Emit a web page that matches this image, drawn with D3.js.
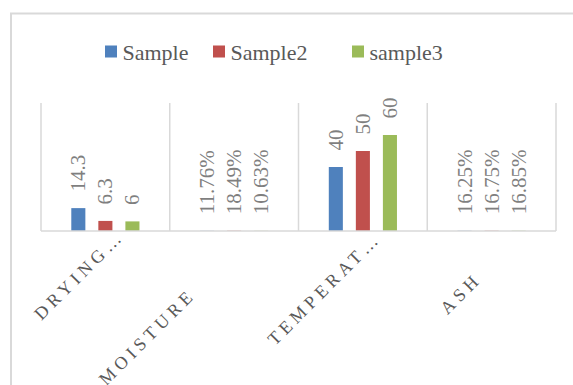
<!DOCTYPE html>
<html>
<head>
<meta charset="utf-8">
<script src="https://cdn.jsdelivr.net/npm/d3@7"></script>
<style>
  html, body { margin: 0; padding: 0; background: #fff; }
  svg { display: block; font-family: "Liberation Serif", "DejaVu Serif", serif; }
</style>
</head>
<body>
<svg id="chart" width="573" height="385"></svg>
<script>
// Categories and the three sample series (percent rows stored as fractions)
const categories = ["DRYING…", "MOISTURE", "TEMPERAT…", "ASH"];
const seriesNames = ["Sample", "Sample2", "sample3"];
const sample1 = [14.3, 0.1176, 40, 0.1625];
const sample2 = [6.3, 0.1849, 50, 0.1675];
const sample3 = [6, 0.1063, 60, 0.1685];
const valueKinds = ["number", "percent", "number", "percent"];
const yDomain = [0, 80];

const seriesValues = [sample1, sample2, sample3];
const colors = ["#4F81BD", "#C0504D", "#9BBB59"];

const svg = d3.select("#chart");
const plot = { left: 41, right: 556, top: 103, bottom: 231 };

// Chart frame
svg.append("rect")
  .attr("x", 11).attr("y", 13.5)
  .attr("width", 620).attr("height", 420)
  .attr("fill", "none")
  .attr("stroke", "#d9d9d9")
  .attr("stroke-width", 2);

const x0 = d3.scaleBand().domain(categories).range([plot.left, plot.right]).padding(0);
const x1 = d3.scaleBand().domain(seriesNames).range([0, x0.bandwidth()])
  .paddingInner(0.48).paddingOuter(1.12);
const y = d3.scaleLinear().domain(yDomain).range([plot.bottom, plot.top]);

// Vertical separators between categories
const edges = categories.map(c => x0(c)).concat([x0(categories[categories.length - 1]) + x0.bandwidth()]);
svg.append("g").selectAll("line").data(edges).join("line")
  .attr("x1", d => d).attr("x2", d => d)
  .attr("y1", y(yDomain[1])).attr("y2", y(0))
  .attr("stroke", "#d9d9d9").attr("stroke-width", 1.5);

// Bars
const rows = [];
categories.forEach((c, ci) => {
  seriesNames.forEach((s, si) => {
    rows.push({ cat: c, ci, series: s, si, value: seriesValues[si][ci] });
  });
});

svg.append("g").selectAll("rect").data(rows).join("rect")
  .attr("x", d => x0(d.cat) + x1(d.series))
  .attr("y", d => y(d.value))
  .attr("width", x1.bandwidth())
  .attr("height", d => y(0) - y(d.value))
  .attr("fill", d => colors[d.si]);

// Category axis line, drawn over the bar bases
const xAxis = svg.append("g")
  .attr("transform", `translate(0,${y(0)})`)
  .call(d3.axisBottom(x0).tickSize(0).tickFormat("").offset(0));
xAxis.select(".domain").attr("stroke", "#d9d9d9").attr("stroke-width", 1.6);

// Value labels, rotated
const fmtNum = d3.format("~g");
const fmtPct = d3.format(".2%");
svg.append("g").selectAll("text").data(rows).join("text")
  .attr("transform", d => {
    const cx = x0(d.cat) + x1(d.series) + x1.bandwidth() / 2;
    const cy = y(d.value) - 16.5;
    return `translate(${cx},${cy}) rotate(-90)`;
  })
  .attr("dy", "0.33em")
  .attr("text-anchor", "start")
  .attr("font-size", 21)
  .attr("fill", "#7f7f7f")
  .text(d => valueKinds[d.ci] === "percent" ? fmtPct(d.value) : fmtNum(d.value));

// Category labels at -45 degrees; offsets run along / across the text line
const labelAlong = [12, -70, 10, -39];
const labelAcross = [-6, -5, -5, 4];
const labelSpacing = 4.5;
svg.append("g").selectAll("text").data(categories).join("text")
  .attr("transform", (c, i) => {
    const tx = x0(c) + x0.bandwidth() / 2 + 12.5;
    const ty = y(0) + 22;
    return `translate(${tx},${ty}) rotate(-45)`;
  })
  .attr("x", (c, i) => labelAlong[i] + labelSpacing)
  .attr("y", (c, i) => labelAcross[i])
  .attr("text-anchor", "end")
  .attr("font-size", 18)
  .attr("letter-spacing", labelSpacing + "px")
  .attr("fill", "#595959")
  .text(c => c);

// Legend
const legendX = [105, 213, 352];
const legend = svg.append("g").selectAll("g").data(seriesNames).join("g")
  .attr("transform", (s, i) => `translate(${legendX[i]},45.5)`);
legend.append("rect")
  .attr("width", 12).attr("height", 12)
  .attr("fill", (s, i) => colors[i]);
legend.append("text")
  .attr("x", 17.5).attr("y", 14)
  .attr("font-size", 22)
  .attr("fill", "#595959")
  .text(s => s);
</script>
</body>
</html>
